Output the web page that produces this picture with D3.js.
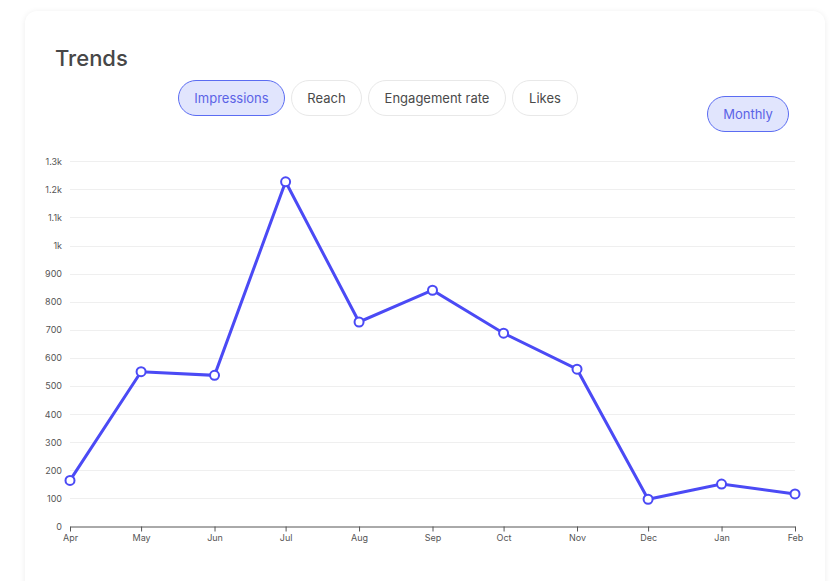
<!DOCTYPE html>
<meta charset="utf-8">
<style>
body {
  margin: 0;
  background: #fff;
  font-family: Inter, "Noto Sans", sans-serif;
}
.card {
  position: absolute;
  left: 25px;
  top: 11px;
  width: 800px;
  height: 620px;
  background: #fff;
  border-radius: 12px;
  box-shadow: 0 1px 6px rgba(0,0,0,0.08);
}
.title {
  position: absolute;
  left: 55px;
  top: 45px;
  font-size: 22px;
  font-weight: 500;
  color: #474747;
}
.pill {
  position: absolute;
  height: 34px;
  line-height: 34px;
  border: 1px solid #e8e8e8;
  border-radius: 18px;
  font-size: 13px;
  color: #4a4a4a;
  text-align: center;
  background: #fff;
  box-sizing: content-box;
}
.pill.on {
  background: #e1e5fd;
  border-color: #5b6cf2;
  color: #5b63e6;
}
svg { position: absolute; left: 0; top: 0; }
.grid line { stroke: #efefef; }
.axis text { fill: #555; font-size: 9px; font-family: Inter, sans-serif; }
.line {
  fill: none;
  stroke: #4b4af5;
  stroke-width: 3px;
}
</style>
<body>
<div class="card"></div>
<div class="title">Trends</div>
<div id="pills"></div>
<script src="https://d3js.org/d3.v7.min.js"></script>
<script>

// data
var months = ["2023-04-01","2023-05-01","2023-06-01","2023-07-01","2023-08-01","2023-09-01",
              "2023-10-01","2023-11-01","2023-12-01","2024-01-01","2024-02-01"];
var impressions = [164, 551, 538, 1227, 728, 841, 688, 560, 97, 151, 116];
var yTicks = [0,100,200,300,400,500,600,700,800,900,1000,1100,1200,1300];
var yLabels = ["0","100","200","300","400","500","600","700","800","900","1k","1.1k","1.2k","1.3k"];
var tabs = ["Impressions","Reach","Engagement rate","Likes"];

// buttons
var pillPos = [[178,107],[291,71],[368,138],[512,66]];
d3.select("#pills").selectAll(".tab")
  .data(tabs)
  .enter().append("div")
    .attr("class", function(d, i) { return i == 0 ? "pill on tab" : "pill tab"; })
    .style("left", function(d, i) { return pillPos[i][0] + "px"; })
    .style("top", "80px")
    .style("width", function(d, i) { return (pillPos[i][1] - 2) + "px"; })
    .text(function(d) { return d; });
d3.select("#pills").append("div")
    .attr("class", "pill on")
    .style("left", "707px")
    .style("top", "96px")
    .style("width", "80px")
    .text("Monthly");

var parse = d3.timeParse("%Y-%m-%d");
var data = months.map(function(m, i) { return {date: parse(m), value: impressions[i]}; });

var svg = d3.select("body").append("svg")
    .attr("width", 838)
    .attr("height", 581);

var x = d3.scaleTime()
    .domain([data[0].date, data[data.length - 1].date])
    .range([70, 795]);
var y = d3.scaleLinear().domain([0, 1300]).range([526.5, 161.3]);

// gridlines
svg.append("g")
    .attr("class", "grid")
  .selectAll("line")
  .data(yTicks.slice(1))
  .enter().append("line")
    .attr("x1", 70)
    .attr("x2", 795)
    .attr("y1", function(d) { return Math.round(y(d)) + 0.5; })
    .attr("y2", function(d) { return Math.round(y(d)) + 0.5; });

// y axis (labels only)
var yAxis = svg.append("g")
    .attr("class", "axis")
    .attr("transform", "translate(70,0)")
    .call(d3.axisLeft(y).tickValues(yTicks)
      .tickFormat(function(d, i) { return yLabels[i]; })
      .tickSize(0).tickPadding(8));
yAxis.select(".domain").remove();

// x axis
var xAxis = svg.append("g")
    .attr("class", "axis")
    .attr("transform", "translate(0,526.5)")
    .call(d3.axisBottom(x).ticks(d3.timeMonth.every(1))
      .tickFormat(d3.timeFormat("%b"))
      .tickSize(5).tickSizeOuter(0).tickPadding(3));
xAxis.select(".domain").attr("stroke", "#555");
xAxis.selectAll(".tick line").attr("stroke", "#555");

// line and points
var valueline = d3.line()
    .x(function(d) { return x(d.date); })
    .y(function(d) { return y(d.value); });

svg.append("path")
    .datum(data)
    .attr("class", "line")
    .attr("d", valueline);

svg.selectAll(".dot")
    .data(data)
  .enter().append("circle")
    .attr("class", "dot")
    .attr("cx", function(d) { return x(d.date); })
    .attr("cy", function(d) { return y(d.value); })
    .attr("r", 4.5)
    .attr("fill", "#fff")
    .attr("stroke", "#4b4af5")
    .attr("stroke-width", 2);

</script>
</body>
